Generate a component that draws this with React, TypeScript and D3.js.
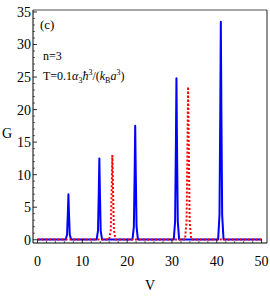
import React from "react";
import * as d3 from "d3";

const blueV = [0, 6.3, 6.6, 6.78, 6.9, 7.02, 7.2, 7.5,
  13.2, 13.5, 13.68, 13.8, 13.92, 14.1, 14.4,
  21.2, 21.5, 21.68, 21.8, 21.92, 22.1, 22.4,
  30.4, 30.7, 30.88, 31.0, 31.12, 31.3, 31.6,
  40.3, 40.6, 40.78, 40.9, 41.02, 41.2, 41.5, 50];
const blueG = [0.05, 0.05, 0.8, 4.2, 7.0, 4.2, 0.8, 0.05,
  0.05, 1.4, 7.5, 12.5, 7.5, 1.4, 0.05,
  0.05, 2.0, 10.5, 17.5, 10.5, 2.0, 0.05,
  0.05, 2.8, 14.9, 24.8, 14.9, 2.8, 0.05,
  0.05, 3.8, 20.1, 33.5, 20.1, 3.8, 0.05, 0.05];
const redV = [0, 16.0, 16.35, 16.55, 16.7, 16.85, 17.05, 17.4,
  32.9, 33.25, 33.45, 33.6, 33.75, 33.95, 34.3, 50];
const redG = [0.05, 0.05, 1.5, 7.8, 13.0, 7.8, 1.5, 0.05,
  0.05, 2.7, 14.1, 23.5, 14.1, 2.7, 0.05, 0.05];

const xTicks = [0, 10, 20, 30, 40, 50];
const yTicks = [0, 5, 10, 15, 20, 25, 30, 35];

const W = 270, H = 296;
const left = 33, right = 267, top = 10, bottom = 243;

export default function App() {
  const x = d3.scaleLinear().domain([-1, 51.2]).range([left, right]);
  const y = d3.scaleLinear().domain([-0.5, 35.3]).range([bottom, top]);
  const blue = blueV.map((v, i) => [v, blueG[i]] as [number, number]);
  const red = redV.map((v, i) => [v, redG[i]] as [number, number]);
  const line = d3.line<[number, number]>().x(d => x(d[0])).y(d => y(d[1]));
  const xMinor = d3.range(0, 51, 2).filter(v => v % 10 !== 0);
  const yMinor = d3.range(0, 36, 1).filter(v => v % 5 !== 0);
  const font = "\"Liberation Serif\", \"DejaVu Serif\", serif";
  return (
    <div style={{ position: "absolute", left: 0, top: 0 }}>
      <svg width={W} height={H} style={{ display: "block", background: "#fff", fontFamily: font }}>
        <rect x={0} y={0} width={W} height={H} fill="#fff" />
        <path d={line(blue) || ""} fill="none" stroke="#0000ff" strokeWidth={2} strokeLinejoin="round" />
        <path d={line(red) || ""} fill="none" stroke="#ff0000" strokeWidth={2} strokeDasharray="2,2" />
        <line x1={left} x2={right} y1={top} y2={top} stroke="#888" strokeWidth={1.5} />
        <line x1={right} x2={right} y1={top} y2={bottom} stroke="#222" strokeWidth={1} />
        <line x1={left} x2={left} y1={top} y2={bottom} stroke="#000" strokeWidth={1} />
        <line x1={left} x2={right} y1={bottom} y2={bottom} stroke="#000" strokeWidth={1} />
        {xTicks.map(t => (
          <g key={"x" + t}>
            <line x1={x(t)} x2={x(t)} y1={bottom} y2={bottom - 4} stroke="#000" strokeWidth={0.8} />
            <text x={x(t)} y={bottom + 23} textAnchor="middle" fontSize={14}>{t}</text>
          </g>
        ))}
        {xMinor.map(t => (
          <line key={"xm" + t} x1={x(t)} x2={x(t)} y1={bottom} y2={bottom - 2} stroke="#000" strokeWidth={0.6} />
        ))}
        {yTicks.map(t => (
          <g key={"y" + t}>
            <line x1={left} x2={left + 4} y1={y(t)} y2={y(t)} stroke="#000" strokeWidth={0.8} />
            <text x={left - 2} y={y(t) + 5} textAnchor="end" fontSize={14}>{t}</text>
          </g>
        ))}
        {yMinor.map(t => (
          <line key={"ym" + t} x1={left} x2={left + 2} y1={y(t)} y2={y(t)} stroke="#000" strokeWidth={0.6} />
        ))}
        <text x={2} y={138} fontSize={14}>G</text>
        <text x={150} y={290} textAnchor="middle" fontSize={14}>V</text>
        <text x={40} y={29} fontSize={13}>(c)</text>
        <text x={43} y={60} fontSize={12}>n=3</text>
        <text x={43} y={80} fontSize={12}>
          <tspan>T=0.1</tspan>
          <tspan fontStyle="italic">α</tspan>
          <tspan fontSize={8} dy={3}>3</tspan>
          <tspan fontStyle="italic" dy={-3}>ħ</tspan>
          <tspan fontSize={8} dy={-5}>3</tspan>
          <tspan dy={5}>/(</tspan>
          <tspan fontStyle="italic">k</tspan>
          <tspan fontSize={8} dy={3}>B</tspan>
          <tspan fontStyle="italic" dy={-3}>a</tspan>
          <tspan fontSize={8} dy={-5}>3</tspan>
          <tspan dy={5}>)</tspan>
        </text>
      </svg>
    </div>
  );
}
